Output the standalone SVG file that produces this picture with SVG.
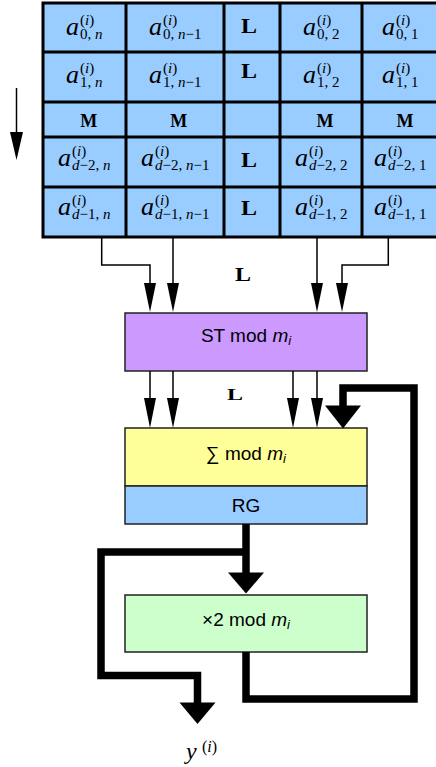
<svg xmlns="http://www.w3.org/2000/svg" width="436" height="767" viewBox="0 0 436 767">
<style>
.cell{fill:#99CCFF}
.grid{fill:none;stroke:#000;stroke-width:3}
.box{stroke:#222;stroke-width:1.5}
.m{font-family:"Liberation Serif",serif;fill:#000}
.a{font-style:italic;font-size:26px}
.s{font-size:15px}
.it{font-style:italic}
.b{font-family:"Liberation Serif",serif;font-weight:bold;fill:#000}
.t{font-family:"Liberation Sans",Arial,sans-serif;font-size:19px;fill:#000;text-anchor:middle}
.thin{fill:none;stroke:#000;stroke-width:1.5}
.thick{fill:none;stroke:#000;stroke-width:7.5;stroke-linejoin:miter}
.head{fill:#000}
</style>
<rect width="436" height="767" fill="#fff"/>
<g id="table">
<rect class="cell" x="43" y="3" width="395" height="234"/>
<g id="row0">
<text class="m"><tspan class="a" x="66" y="35">a</tspan><tspan class="s" x="80" y="25">(<tspan class="it">i</tspan>)</tspan><tspan class="s" x="80" y="38.5">0, <tspan class="it">n</tspan></tspan></text>
<text class="m"><tspan class="a" x="149" y="35">a</tspan><tspan class="s" x="163" y="25">(<tspan class="it">i</tspan>)</tspan><tspan class="s" x="163" y="38.5">0, <tspan class="it">n</tspan>−1</tspan></text>
<text class="b" x="241" y="32.5" font-size="20" textLength="16" lengthAdjust="spacingAndGlyphs">L</text>
<text class="m"><tspan class="a" x="303" y="35">a</tspan><tspan class="s" x="317" y="25">(<tspan class="it">i</tspan>)</tspan><tspan class="s" x="317" y="38.5">0, 2</tspan></text>
<text class="m"><tspan class="a" x="382" y="35">a</tspan><tspan class="s" x="396" y="25">(<tspan class="it">i</tspan>)</tspan><tspan class="s" x="396" y="38.5">0, 1</tspan></text>
</g>
<g id="row1">
<text class="m"><tspan class="a" x="66" y="83">a</tspan><tspan class="s" x="80" y="73">(<tspan class="it">i</tspan>)</tspan><tspan class="s" x="80" y="86.5">1, <tspan class="it">n</tspan></tspan></text>
<text class="m"><tspan class="a" x="149" y="83">a</tspan><tspan class="s" x="163" y="73">(<tspan class="it">i</tspan>)</tspan><tspan class="s" x="163" y="86.5">1, <tspan class="it">n</tspan>−1</tspan></text>
<text class="b" x="241" y="78" font-size="20" textLength="16" lengthAdjust="spacingAndGlyphs">L</text>
<text class="m"><tspan class="a" x="303" y="83">a</tspan><tspan class="s" x="317" y="73">(<tspan class="it">i</tspan>)</tspan><tspan class="s" x="317" y="86.5">1, 2</tspan></text>
<text class="m"><tspan class="a" x="382" y="83">a</tspan><tspan class="s" x="396" y="73">(<tspan class="it">i</tspan>)</tspan><tspan class="s" x="396" y="86.5">1, 1</tspan></text>
</g>
<g id="row2">
<text class="b" x="88.7" y="127" font-size="18" text-anchor="middle">M</text>
<text class="b" x="178.7" y="127" font-size="18" text-anchor="middle">M</text>
<text class="b" x="325" y="127" font-size="18" text-anchor="middle">M</text>
<text class="b" x="405" y="127" font-size="18" text-anchor="middle">M</text>
</g>
<g id="row3">
<text class="m"><tspan class="a" x="58" y="166">a</tspan><tspan class="s" x="72" y="156">(<tspan class="it">i</tspan>)</tspan><tspan class="s" x="72" y="169.5"><tspan class="it">d</tspan>−2, <tspan class="it">n</tspan></tspan></text>
<text class="m"><tspan class="a" x="141" y="166">a</tspan><tspan class="s" x="155" y="156">(<tspan class="it">i</tspan>)</tspan><tspan class="s" x="155" y="169.5"><tspan class="it">d</tspan>−2, <tspan class="it">n</tspan>−1</tspan></text>
<text class="b" x="241" y="166.5" font-size="20" textLength="16" lengthAdjust="spacingAndGlyphs">L</text>
<text class="m"><tspan class="a" x="295" y="166">a</tspan><tspan class="s" x="309" y="156">(<tspan class="it">i</tspan>)</tspan><tspan class="s" x="309" y="169.5"><tspan class="it">d</tspan>−2, 2</tspan></text>
<text class="m"><tspan class="a" x="374" y="166">a</tspan><tspan class="s" x="388" y="156">(<tspan class="it">i</tspan>)</tspan><tspan class="s" x="388" y="169.5"><tspan class="it">d</tspan>−2, 1</tspan></text>
</g>
<g id="row4">
<text class="m"><tspan class="a" x="58" y="215">a</tspan><tspan class="s" x="72" y="205">(<tspan class="it">i</tspan>)</tspan><tspan class="s" x="72" y="218.5"><tspan class="it">d</tspan>−1, <tspan class="it">n</tspan></tspan></text>
<text class="m"><tspan class="a" x="141" y="215">a</tspan><tspan class="s" x="155" y="205">(<tspan class="it">i</tspan>)</tspan><tspan class="s" x="155" y="218.5"><tspan class="it">d</tspan>−1, <tspan class="it">n</tspan>−1</tspan></text>
<text class="b" x="241" y="215" font-size="20" textLength="16" lengthAdjust="spacingAndGlyphs">L</text>
<text class="m"><tspan class="a" x="295" y="215">a</tspan><tspan class="s" x="309" y="205">(<tspan class="it">i</tspan>)</tspan><tspan class="s" x="309" y="218.5"><tspan class="it">d</tspan>−1, 2</tspan></text>
<text class="m"><tspan class="a" x="374" y="215">a</tspan><tspan class="s" x="388" y="205">(<tspan class="it">i</tspan>)</tspan><tspan class="s" x="388" y="218.5"><tspan class="it">d</tspan>−1, 1</tspan></text>
</g>
<path class="grid" d="M43 3H438V237H43Z M126 3V237 M224 3V237 M280 3V237 M362 3V237 M43 52H438 M43 102H438 M43 137H438 M43 187H438"/>
</g>
<g id="st">
<rect class="box" x="125" y="313" width="242" height="58" fill="#CC99FF"/>
<text class="t" x="246" y="342">ST mod <tspan font-style="italic">m</tspan><tspan font-style="italic" font-size="13" dy="3">i</tspan></text>
</g>
<g id="sum">
<rect class="box" x="125" y="428" width="242" height="58" fill="#FFFF99"/>
<text class="t" x="246" y="460">∑ mod <tspan font-style="italic">m</tspan><tspan font-style="italic" font-size="13" dy="3">i</tspan></text>
</g>
<g id="rg">
<rect class="box" x="125" y="486" width="242" height="38" fill="#99CCFF"/>
<text class="t" x="246" y="512">RG</text>
</g>
<g id="dbl">
<rect class="box" x="125" y="595" width="242" height="57" fill="#CCFFCC"/>
<text class="t" x="246" y="626">×2 mod <tspan font-style="italic">m</tspan><tspan font-style="italic" font-size="13" dy="3">i</tspan></text>
</g>
<g id="y">
<text class="m" font-size="24"><tspan class="it" x="186" y="759">y</tspan><tspan font-size="16" x="202" y="752">(<tspan class="it">i</tspan>)</tspan></text>
</g>
<g id="labels">
<text class="b" x="235" y="280.5" font-size="19" textLength="16" lengthAdjust="spacingAndGlyphs">L</text>
<text class="b" x="227" y="399.5" font-size="17" textLength="16" lengthAdjust="spacingAndGlyphs">L</text>
</g>
<g id="connectors">
<path class="thin" d="M16.5 88V133"/>
<polygon class="head" points="10,132 23,132 16.5,160"/>
<path class="thin" d="M101.7 237V265H150V284 M173 237V284 M317 237V284 M388.3 237V265H342V284"/>
<polygon class="head" points="144,283 156,283 150,312"/>
<polygon class="head" points="167,283 179,283 173,312"/>
<polygon class="head" points="311,283 323,283 317,312"/>
<polygon class="head" points="336,283 348,283 342,312"/>
<path class="thin" d="M150 371V399 M173 371V399 M293 371V399 M317 371V399"/>
<polygon class="head" points="144,398 156,398 150,428"/>
<polygon class="head" points="167,398 179,398 173,428"/>
<polygon class="head" points="287,398 299,398 293,428"/>
<polygon class="head" points="311,398 323,398 317,428"/>
<path class="thick" d="M246 652V699H414V388H343V406.5"/>
<polygon class="head" points="325,405.5 361,405.5 343,428.5"/>
<path class="thick" d="M246 524V573.5"/>
<polygon class="head" points="228,572.5 264,572.5 246,593.5"/>
<path class="thick" d="M246 552H101V675.5H197.5V703.5"/>
<polygon class="head" points="179.5,702.5 215.5,702.5 197.5,724"/>
</g>
</svg>
